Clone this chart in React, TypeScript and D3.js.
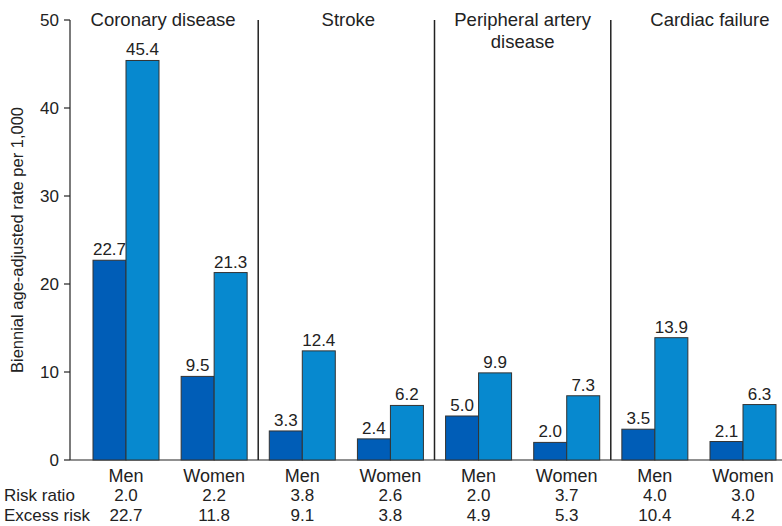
import React, { useEffect, useRef } from "react";
import * as d3 from "d3";

const diseases = ["Coronary disease", "Stroke", "Peripheral artery disease", "Cardiac failure"];
const diseaseTitles = [["Coronary disease"], ["Stroke"], ["Peripheral artery", "disease"], ["Cardiac failure"]];
const sexes = ["Men", "Women"];

// dark / light bar per disease x sex
const darkValues = [22.7, 9.5, 3.3, 2.4, 5.0, 2.0, 3.5, 2.1];
const lightValues = [45.4, 21.3, 12.4, 6.2, 9.9, 7.3, 13.9, 6.3];
const riskRatio = ["2.0", "2.2", "3.8", "2.6", "2.0", "3.7", "4.0", "3.0"];
const excessRisk = ["22.7", "11.8", "9.1", "3.8", "4.9", "5.3", "10.4", "4.2"];
const yTicks = [0, 10, 20, 30, 40, 50];

const darkColor = "#005db7";
const lightColor = "#0789cf";
const ink = "#222";
const font = "'Liberation Sans', Arial, sans-serif";
const titleShift = [-7, 2, 0, 11]; // titles are not exactly centred in the original

const Chart = ({ width = 782, height = 526 }: { width?: number; height?: number }) => {
  const svgRef = useRef<SVGSVGElement | null>(null);

  useEffect(() => {
    const svg = d3.select(svgRef.current);
    svg.selectAll("*").remove();
    svg.attr("width", width).attr("height", height).style("font-family", font);

    const slots = diseases.flatMap((d) => sexes.map((s) => `${d}|${s}`));
    const x = d3.scalePoint<string>().domain(slots).range([126, 743]);
    const step = x.step();
    const y = d3.scaleLinear().domain([0, 50]).range([460, 20]);
    const barW = 33;

    // y axis
    const axis = svg.append("g").attr("transform", "translate(70,0)");
    axis.append("line").attr("y1", y(50)).attr("y2", y(0)).attr("stroke", ink).attr("stroke-width", 1.2);
    axis.selectAll("g.tick")
      .data(yTicks)
      .enter()
      .append("g")
      .attr("transform", (d) => `translate(0,${y(d)})`)
      .each(function (d) {
        const t = d3.select(this);
        t.append("line").attr("x1", -6).attr("x2", 0).attr("stroke", ink).attr("stroke-width", 1.2);
        t.append("text").attr("x", -11).attr("dy", "0.36em").attr("text-anchor", "end")
          .style("font-size", "17px").attr("fill", ink).text(d);
      });

    svg.append("text")
      .attr("transform", `translate(23,${y(25)}) rotate(-90)`)
      .attr("text-anchor", "middle")
      .style("font-size", "16.5px")
      .attr("fill", ink)
      .text("Biennial age-adjusted rate per 1,000");

    // baseline
    svg.append("line").attr("x1", 70).attr("x2", width).attr("y1", y(0)).attr("y2", y(0))
      .attr("stroke", ink).attr("stroke-width", 1.2);

    // dividers between diseases
    diseases.slice(1).forEach((d) => {
      const xm = x(`${d}|Men`)! - step / 2;
      svg.append("line").attr("x1", xm).attr("x2", xm).attr("y1", y(50)).attr("y2", y(0))
        .attr("stroke", ink).attr("stroke-width", 1.5);
    });

    // bars
    const rows = slots.map((s, i) => ({ slot: s, dark: darkValues[i], light: lightValues[i] }));
    const g = svg.append("g");
    g.selectAll("rect.dark").data(rows).enter().append("rect")
      .attr("x", (d) => x(d.slot)! - barW).attr("width", barW)
      .attr("y", (d) => y(d.dark)).attr("height", (d) => y(0) - y(d.dark))
      .attr("fill", darkColor).attr("stroke", "#333").attr("stroke-width", 1);
    g.selectAll("rect.light").data(rows).enter().append("rect")
      .attr("x", (d) => x(d.slot)!).attr("width", barW)
      .attr("y", (d) => y(d.light)).attr("height", (d) => y(0) - y(d.light))
      .attr("fill", lightColor).attr("stroke", "#333").attr("stroke-width", 1);

    // value labels
    g.selectAll("text.dv").data(rows).enter().append("text")
      .attr("x", (d) => x(d.slot)! - barW / 2).attr("y", (d) => y(d.dark) - 5)
      .attr("text-anchor", "middle").style("font-size", "17px").attr("fill", ink)
      .text((d) => d.dark.toFixed(1));
    g.selectAll("text.lv").data(rows).enter().append("text")
      .attr("x", (d) => x(d.slot)! + barW / 2).attr("y", (d) => y(d.light) - 5)
      .attr("text-anchor", "middle").style("font-size", "17px").attr("fill", ink)
      .text((d) => d.light.toFixed(1));

    // disease titles
    diseases.forEach((d, i) => {
      const cx = (x(`${d}|Men`)! + x(`${d}|Women`)!) / 2 + titleShift[i];
      diseaseTitles[i].forEach((line, j) => {
        svg.append("text").attr("x", cx).attr("y", 26 + j * 22)
          .attr("text-anchor", "middle").style("font-size", "18.5px").attr("fill", ink).text(line);
      });
    });

    // bottom rows
    slots.forEach((s, i) => {
      const cx = x(s)!;
      svg.append("text").attr("x", cx).attr("y", 482).attr("text-anchor", "middle")
        .style("font-size", "18px").attr("fill", ink).text(s.split("|")[1]);
      svg.append("text").attr("x", cx).attr("y", 501).attr("text-anchor", "middle")
        .style("font-size", "17px").attr("fill", ink).text(riskRatio[i]);
      svg.append("text").attr("x", cx).attr("y", 521).attr("text-anchor", "middle")
        .style("font-size", "17px").attr("fill", ink).text(excessRisk[i]);
    });
    svg.append("text").attr("x", 4).attr("y", 501).style("font-size", "17px").attr("fill", ink).text("Risk ratio");
    svg.append("text").attr("x", 4).attr("y", 521).style("font-size", "17px").attr("fill", ink).text("Excess risk");
  }, [width, height]);

  return <svg ref={svgRef} style={{ position: "absolute", left: 0, top: 0, background: "#fff" }}></svg>;
};

export default function App() {
  return <Chart />;
}
